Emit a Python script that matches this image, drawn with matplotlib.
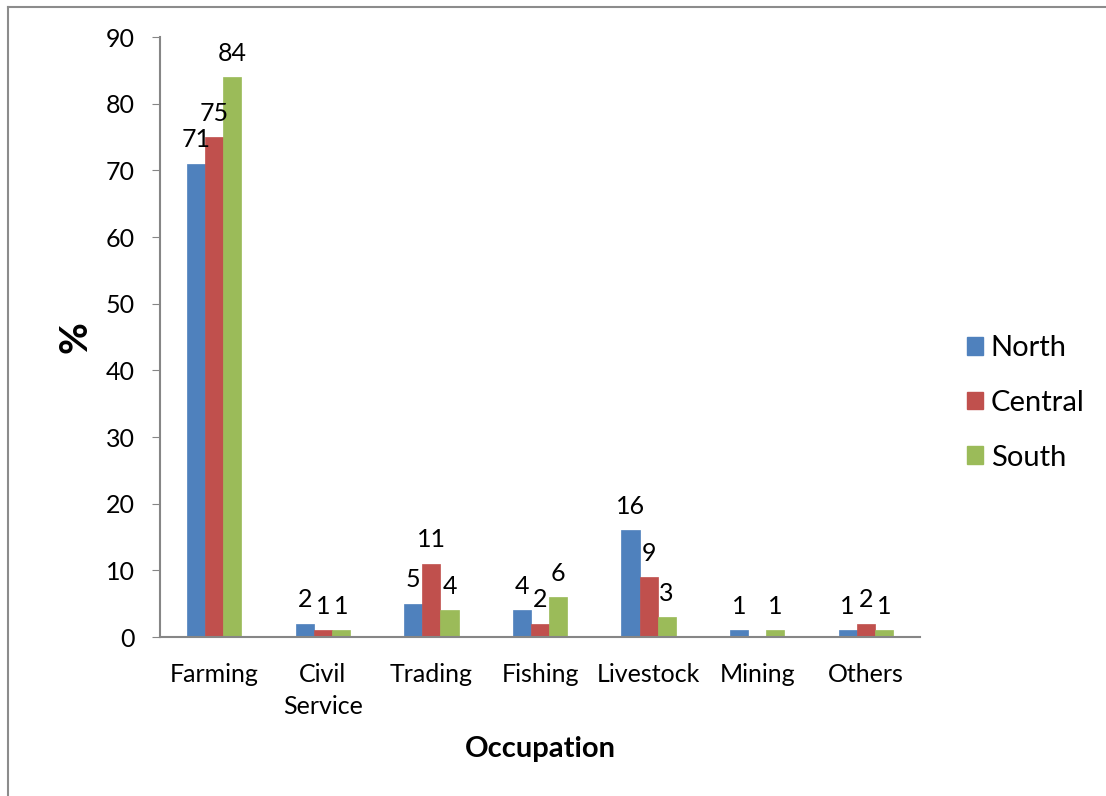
import numpy as np
import matplotlib.pyplot as plt
from matplotlib.lines import Line2D

occupations = ["Farming", "Civil\nService", "Trading", "Fishing", "Livestock", "Mining", "Others"]
north = [71, 2, 5, 4, 16, 1, 1]
central = [75, 1, 11, 2, 9, 0, 2]
south = [84, 1, 4, 6, 3, 1, 1]
regions = ["North", "Central", "South"]
colors = ["#4F81BD", "#C0504D", "#9BBB59"]

plt.rcParams['font.family'] = ['Lato', 'DejaVu Sans']

fig = plt.figure(figsize=(11.06, 7.96), dpi=100)
ax = fig.add_axes([0.1447, 0.1997, 0.6871, 0.7538])

x = np.arange(len(occupations))
w = 1 / 6
for k, (name, vals, c) in enumerate(zip(regions, [north, central, south], colors)):
    pos = x + (k - 1) * w
    ax.bar(pos, vals, width=w, color=c, label=name, edgecolor=c, linewidth=0.5)
    for px, v in zip(pos, vals):
        if v == 0:
            continue
        ax.annotate(str(v), (px, v), xytext=(0, 9), textcoords="offset points",
                    ha="center", va="bottom", fontsize=18)

ax.set_xlim(-0.5, len(occupations) - 0.5)
ax.set_ylim(0, 90)
ax.set_yticks(range(0, 91, 10))
ax.set_xticks(x)
ax.set_xticklabels(occupations, fontsize=18, linespacing=1.45)
ax.tick_params(axis='y', labelsize=18, length=6, color="#868686", pad=12)
ax.tick_params(axis='x', length=0, pad=19)

for s in ["top", "right"]:
    ax.spines[s].set_visible(False)
for s in ["left", "bottom"]:
    ax.spines[s].set_color("#868686")
    ax.spines[s].set_linewidth(1.5)

ax.set_xlabel("Occupation", fontsize=21, fontweight="bold", labelpad=13)
ax.set_ylabel("%", fontsize=28, fontweight="bold", labelpad=10)

handles = [plt.Rectangle((0, 0), 1, 1, color=c) for c in colors]
fig.legend(handles, regions, loc="center left", bbox_to_anchor=(0.851, 0.4937),
           frameon=False, fontsize=21, handlelength=0.55, handleheight=0.55,
           handletextpad=0.25, labelspacing=0.98)

# outer frame: top and left edges
fig.add_artist(Line2D([8 / 1106, 1], [1 - 7 / 796, 1 - 7 / 796], color="#8c8c8c", linewidth=1.5))
fig.add_artist(Line2D([8 / 1106, 8 / 1106], [0, 1 - 7 / 796], color="#8c8c8c", linewidth=1.5))

fig.savefig("out.png", dpi=100)
